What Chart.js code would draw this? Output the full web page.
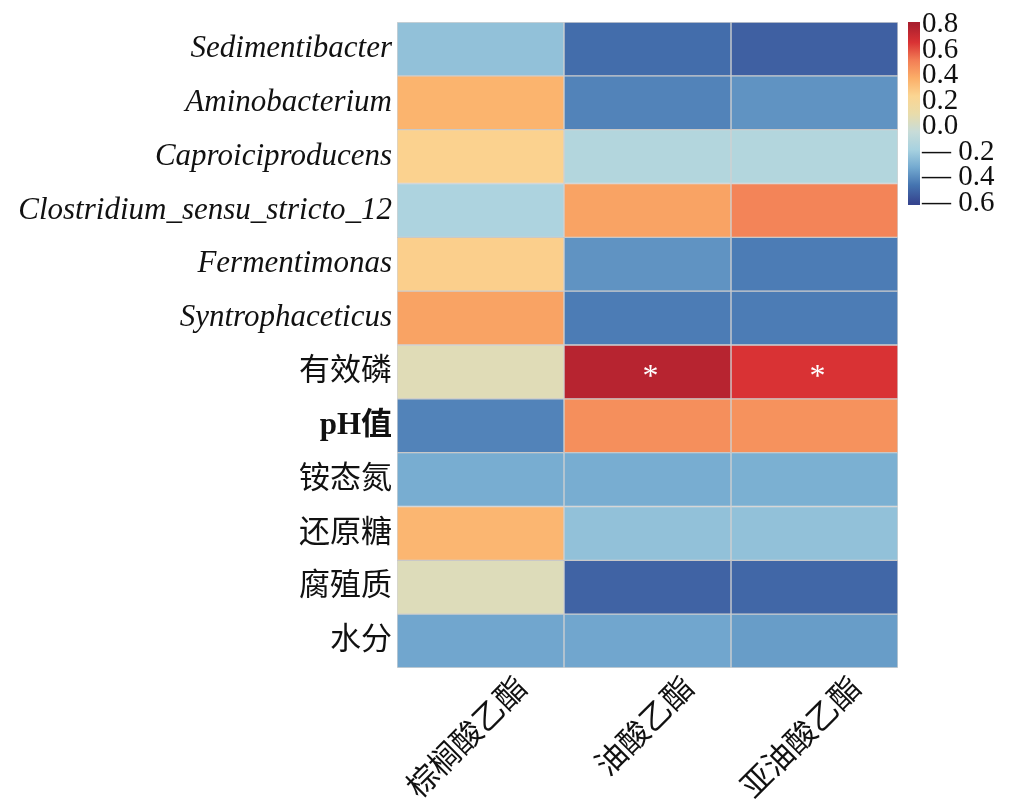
<!DOCTYPE html>
<html>
<head>
<meta charset="utf-8">
<script src="https://cdn.jsdelivr.net/npm/chart.js@4.4.1/dist/chart.umd.min.js"></script>
<style>
  html, body { margin: 0; padding: 0; background: #ffffff; }
  #wrap { position: relative; width: 1022px; height: 808px; overflow: hidden; }
  #main { position: absolute; left: 0; top: 0; }
  #cbar { position: absolute; left: 908px; top: 0; }
</style>
</head>
<body>
<div id="wrap">
  <canvas id="main" width="1022" height="808"></canvas>
  <canvas id="cbar" width="112" height="232"></canvas>
</div>
<script>
// ---------------- data ----------------
const rowLabels = [
  'Sedimentibacter', 'Aminobacterium', 'Caproiciproducens',
  'Clostridium_sensu_stricto_12', 'Fermentimonas', 'Syntrophaceticus',
  '有效磷', 'pH值', '铵态氮', '还原糖', '腐殖质', '水分'
];
const italicRows = 6; // first six rows are genus names (italic)
const boldRow = 7;    // 'pH值' is set in a heavier weight
const colLabels = ['棕榈酸乙酯', '油酸乙酯', '亚油酸乙酯'];

const palmitateValues = [-0.24, 0.36, 0.25, -0.16, 0.26, 0.41, 0.06, -0.42, -0.31, 0.35, 0.05, -0.33];
const oleateValues    = [-0.48, -0.42, -0.13, 0.41, -0.38, -0.44, 0.76, 0.47, -0.31, -0.24, -0.51, -0.33];
const linoleateValues = [-0.52, -0.38, -0.13, 0.50, -0.44, -0.44, 0.66, 0.46, -0.30, -0.24, -0.50, -0.355];

const palmitateSig = ['', '', '', '', '', '', '', '', '', '', '', ''];
const oleateSig    = ['', '', '', '', '', '', '*', '', '', '', '', ''];
const linoleateSig = ['', '', '', '', '', '', '*', '', '', '', '', ''];

const colorMin = -0.6;
const colorMax = 0.8;
const colorbarTicks = [-0.6, -0.4, -0.2, 0.0, 0.2, 0.4, 0.6, 0.8];
const colorbarRange = [-0.616, 0.82];

// ---------------- styling ----------------
const cmapStops = [
  [0.0, '#36458f'], [0.1, '#4574b0'], [0.2, '#74aad0'], [0.3, '#a8d2e0'],
  [0.4, '#c8dcd8'], [0.5, '#e9dcaa'], [0.6, '#fbd592'], [0.7, '#fbae68'],
  [0.8, '#f27d55'], [0.9, '#d93234'], [1.0, '#aa1f2e']
];
function hexToRgb(h) { return [1, 3, 5].map(i => parseInt(h.substr(i, 2), 16)); }
function colorFor(v) {
  let t = (v - colorMin) / (colorMax - colorMin);
  t = Math.max(0, Math.min(1, t));
  for (let i = 0; i < cmapStops.length - 1; i++) {
    const [t0, c0] = cmapStops[i], [t1, c1] = cmapStops[i + 1];
    if (t >= t0 && t <= t1) {
      const f = (t - t0) / (t1 - t0);
      const a = hexToRgb(c0), b = hexToRgb(c1);
      const m = a.map((x, k) => Math.round(x + (b[k] - x) * f));
      return `rgb(${m[0]},${m[1]},${m[2]})`;
    }
  }
  return cmapStops[cmapStops.length - 1][1];
}

const SERIF = "'Liberation Serif', 'Times New Roman', 'Noto Sans CJK SC', serif";
const columns = [
  { values: palmitateValues, sig: palmitateSig },
  { values: oleateValues, sig: oleateSig },
  { values: linoleateValues, sig: linoleateSig }
];

const datasets = columns.map((col, c) => ({
  label: colLabels[c],
  data: col.values.map(() => [c, c + 1]),
  backgroundColor: col.values.map(colorFor),
  borderColor: 'rgba(170,170,170,0.5)',
  borderWidth: 1,
  borderSkipped: false,
  barPercentage: 1,
  categoryPercentage: 1,
  grouped: false
}));

const starPlugin = {
  id: 'stars',
  afterDatasetsDraw(chart) {
    const ctx = chart.ctx;
    ctx.save();
    ctx.fillStyle = '#ffffff';
    ctx.font = "32px 'Liberation Serif', serif";
    ctx.textAlign = 'center';
    ctx.textBaseline = 'middle';
    columns.forEach((col, c) => {
      const meta = chart.getDatasetMeta(c);
      col.sig.forEach((s, i) => {
        if (!s) return;
        const el = meta.data[i];
        const cx = (el.x + el.base) / 2;
        ctx.fillText(s, cx + 3, el.y + 6);
      });
    });
    ctx.restore();
  }
};

new Chart(document.getElementById('main'), {
  type: 'bar',
  data: { labels: rowLabels, datasets },
  options: {
    indexAxis: 'y',
    responsive: false,
    animation: false,
    devicePixelRatio: 1,
    layout: { padding: { left: 0, right: 124, top: 22, bottom: 0 } },
    plugins: { legend: { display: false }, tooltip: { enabled: false } },
    scales: {
      x: {
        type: 'linear', min: 0, max: 3,
        grid: { display: false, drawTicks: false }, border: { display: false },
        afterBuildTicks: s => { s.ticks = colLabels.map((_, i) => ({ value: i + 0.5 })); },
        afterFit: s => { s.height = 140; },
        ticks: {
          autoSkip: false, minRotation: 45, maxRotation: 45,
          labelOffset: 43, padding: 3,
          color: '#111',
          font: { family: SERIF, size: 31 },
          callback: (v, i) => colLabels[i]
        }
      },
      y: {
        type: 'category',
        grid: { display: false, drawTicks: false }, border: { display: false },
        afterFit: s => { s.width = 397; },
        ticks: {
          autoSkip: false, padding: 5, color: '#111',
          font: ctx => ({
            family: SERIF, size: 31, lineHeight: 1,
            style: ctx.index < italicRows ? 'italic' : 'normal',
            weight: ctx.index === boldRow ? 'bold' : 'normal'
          })
        }
      }
    }
  },
  plugins: [starPlugin]
});

// ---------------- colour bar ----------------
new Chart(document.getElementById('cbar'), {
  type: 'bar',
  data: {
    labels: ['cb'],
    datasets: [{
      data: [colorbarRange],
      barPercentage: 1, categoryPercentage: 1, borderWidth: 0,
      backgroundColor: ctx => {
        const chart = ctx.chart;
        if (!chart.chartArea) return '#888';
        const ys = chart.scales.y;
        const g = chart.ctx.createLinearGradient(0, ys.getPixelForValue(colorMin), 0, ys.getPixelForValue(colorMax));
        cmapStops.forEach(([t, c]) => g.addColorStop(t, c));
        return g;
      }
    }]
  },
  options: {
    responsive: false, animation: false, devicePixelRatio: 1,
    layout: { padding: { left: 0, right: 0, top: 22, bottom: 27 } },
    plugins: { legend: { display: false }, tooltip: { enabled: false } },
    scales: {
      x: { display: false },
      y: {
        position: 'right',
        min: colorbarRange[0], max: colorbarRange[1],
        grid: { display: false, drawTicks: false }, border: { display: false },
        afterBuildTicks: s => { s.ticks = colorbarTicks.map(v => ({ value: v })); },
        afterFit: s => { s.width = 100; },
        ticks: {
          autoSkip: false, padding: 2, color: '#111',
          font: { family: SERIF, size: 29 },
          callback: v => (v < 0 ? '— ' + Math.abs(v).toFixed(1) : v.toFixed(1))
        }
      }
    }
  }
});
</script>
</body>
</html>
